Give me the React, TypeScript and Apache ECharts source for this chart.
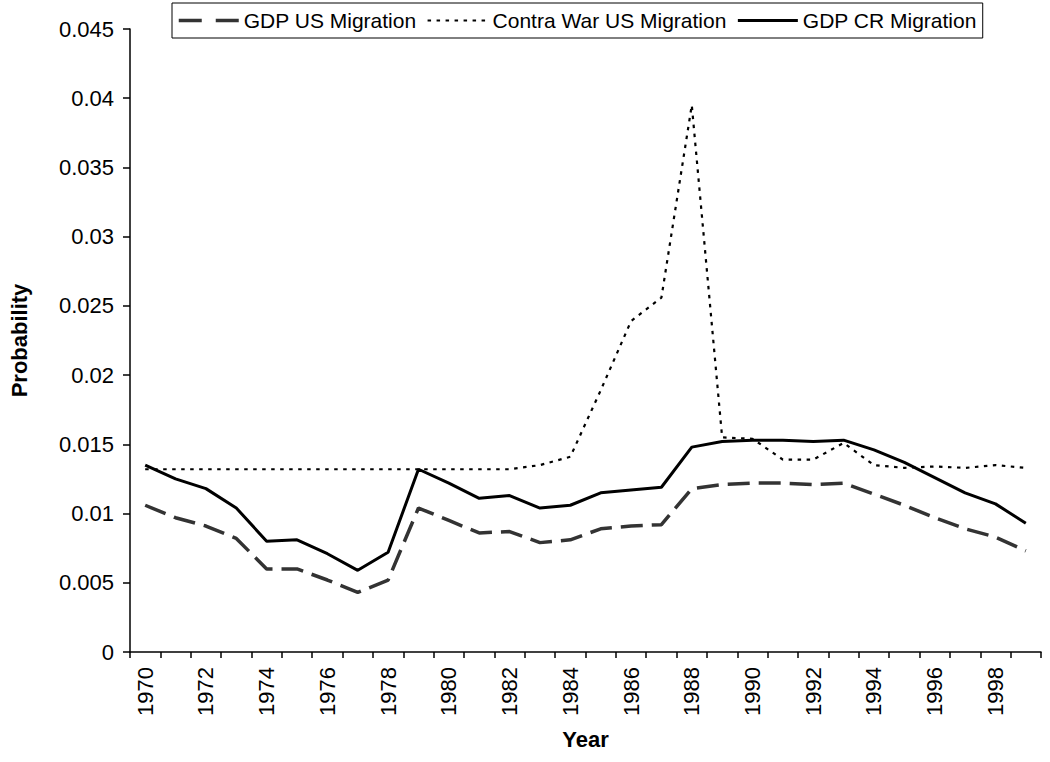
import React, { useEffect, useRef } from "react";
import * as echarts from "echarts";

const years = [
  "1970", "1971", "1972", "1973", "1974", "1975", "1976", "1977", "1978", "1979",
  "1980", "1981", "1982", "1983", "1984", "1985", "1986", "1987", "1988", "1989",
  "1990", "1991", "1992", "1993", "1994", "1995", "1996", "1997", "1998", "1999",
];

const gdpUS = [
  0.0106, 0.0097, 0.0091, 0.0082, 0.006, 0.006, 0.0052, 0.0043, 0.0052, 0.0104,
  0.0095, 0.0086, 0.0087, 0.0079, 0.0081, 0.0089, 0.0091, 0.0092, 0.0118, 0.0121,
  0.0122, 0.0122, 0.0121, 0.0122, 0.0114, 0.0106, 0.0097, 0.0089, 0.0083, 0.0073,
];

const contraUS = [
  0.0132, 0.0132, 0.0132, 0.0132, 0.0132, 0.0132, 0.0132, 0.0132, 0.0132, 0.0132,
  0.0132, 0.0132, 0.0132, 0.0135, 0.0141, 0.0189, 0.0239, 0.0256, 0.0395, 0.0155,
  0.0154, 0.0139, 0.0139, 0.0151, 0.0135, 0.0133, 0.0134, 0.0133, 0.0135, 0.0133,
];

const gdpCR = [
  0.0135, 0.0125, 0.0118, 0.0104, 0.008, 0.0081, 0.0071, 0.0059, 0.0072, 0.0132,
  0.0122, 0.0111, 0.0113, 0.0104, 0.0106, 0.0115, 0.0117, 0.0119, 0.0148, 0.0152,
  0.0153, 0.0153, 0.0152, 0.0153, 0.0146, 0.0137, 0.0126, 0.0115, 0.0107, 0.0093,
];

const seriesNames = ["GDP US Migration", "Contra War US Migration", "GDP CR Migration"];

const FONT = "'Liberation Sans', Arial, sans-serif";

const styleUS = { color: "#333", width: 3.5, type: [22, 9] };
const styleContra = { color: "#000", width: 2.2, type: [3.5, 5.5] };
const styleCR = { color: "#000", width: 3, type: "solid" };

export default function App() {
  const ref = useRef<HTMLDivElement>(null);
  useEffect(() => {
    if (!ref.current) return;
    const chart = echarts.init(ref.current, undefined, { renderer: "svg" });
    chart.setOption({
      animation: false,
      backgroundColor: "#ffffff",
      textStyle: { fontFamily: FONT, color: "#000" },
      legend: {
        left: 172,
        top: 3,
        padding: [7, 6, 7, 5],
        itemGap: 10,
        itemWidth: 60,
        itemHeight: 14,
        borderColor: "#000",
        borderWidth: 1,
        itemStyle: { opacity: 0 },
        textStyle: { fontFamily: FONT, fontSize: 21, color: "#000" },
        data: [
          { name: seriesNames[0], itemStyle: { opacity: 0 }, lineStyle: { ...styleUS, type: [23, 14] } },
          { name: seriesNames[1], itemStyle: { opacity: 0 }, lineStyle: styleContra },
          { name: seriesNames[2], itemStyle: { opacity: 0 }, lineStyle: styleCR },
        ],
      },
      grid: { left: 122, right: 9, top: 29, bottom: 110 },
      xAxis: {
        type: "category",
        data: years,
        boundaryGap: true,
        name: "Year",
        nameLocation: "middle",
        nameGap: 76,
        nameTextStyle: { fontFamily: FONT, fontSize: 22, fontWeight: "bold", color: "#000" },
        axisLine: { lineStyle: { color: "#000", width: 1.5 } },
        axisTick: { show: true, interval: 0, length: 6, lineStyle: { color: "#000", width: 1.5 } },
        axisLabel: {
          interval: 1,
          rotate: 90,
          margin: 15,
          fontFamily: FONT,
          fontSize: 22,
          color: "#000",
        },
        splitLine: { show: false },
      },
      yAxis: {
        type: "value",
        min: 0,
        max: 0.045,
        interval: 0.005,
        name: "Probability",
        nameLocation: "middle",
        nameGap: 100,
        nameRotate: 90,
        nameTextStyle: { fontFamily: FONT, fontSize: 22, fontWeight: "bold", color: "#000" },
        axisLine: { show: true, lineStyle: { color: "#000", width: 1.5 } },
        axisTick: { show: true, length: 7, lineStyle: { color: "#000", width: 1.5 } },
        axisLabel: { margin: 16, fontFamily: FONT, fontSize: 22, color: "#000" },
        splitLine: { show: false },
      },
      series: [
        {
          name: seriesNames[0],
          type: "line",
          data: gdpUS,
          symbol: "none",
          lineStyle: styleUS,
          itemStyle: { color: "#333" },
          z: 2,
        },
        {
          name: seriesNames[1],
          type: "line",
          data: contraUS,
          symbol: "none",
          lineStyle: styleContra,
          itemStyle: { color: "#000" },
          z: 3,
        },
        {
          name: seriesNames[2],
          type: "line",
          data: gdpCR,
          symbol: "none",
          lineStyle: styleCR,
          itemStyle: { color: "#000" },
          z: 4,
        },
      ],
    });
    return () => chart.dispose();
  }, []);
  return (
    <div
      ref={ref}
      style={{ position: "fixed", left: 0, top: 0, width: 1050, height: 762, background: "#fff" }}
    />
  );
}
